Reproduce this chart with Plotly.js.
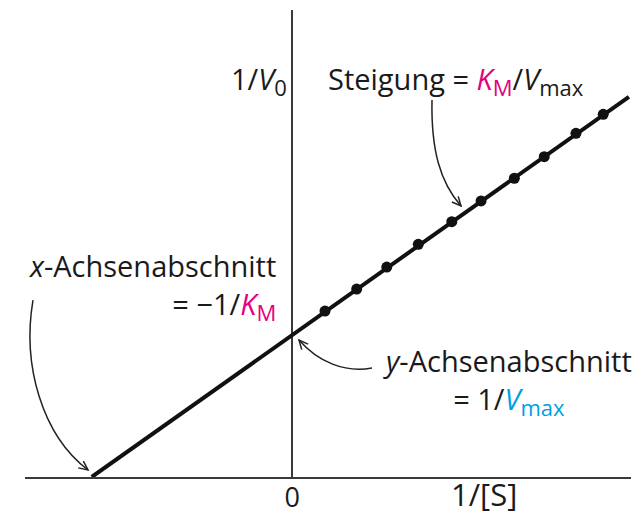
<!DOCTYPE html>
<html><head><meta charset="utf-8">
<script src="https://cdn.plot.ly/plotly-3.0.1.min.js"></script>
<style>html,body{margin:0;padding:0;background:#fff}</style>
</head><body>
<div id="chart" style="width:636px;height:519px"></div>
<script>
// Data (Lineweaver-Burk plot, arbitrary units: x in 1/KM, y in 1/Vmax)
const pointX = [0.163, 0.321, 0.471, 0.628, 0.795, 0.941, 1.107, 1.256, 1.414, 1.550];
const pointY = [1.155, 1.308, 1.461, 1.619, 1.777, 1.921, 2.079, 2.229, 2.392, 2.524];
const lineX = [-1, 1.678];
const lineY = [0, 2.646];
const xTickVals = [0];
const xTickText = ['0'];

const MAG = '#e5007e', CYAN = '#009fe3';
const FONT = 'Open Sans, sans-serif';
const FS = 29;

// pixel -> paper helpers (plot area: left 25, top 10, width 606, height 467)
const L = 25, T = 10, W = 606, H = 467;
const px = x => (x - L) / W;
const py = y => (T + H - y) / H;
const P = (x, y) => px(x).toFixed(5) + ',' + py(y).toFixed(5);

function arrow(d) {
  const [s, c1, c2, e] = d;
  const dx = e[0] - c2[0], dy = e[1] - c2[1];
  const len = Math.hypot(dx, dy), ux = dx / len, uy = dy / len;
  const a = 25 * Math.PI / 180, hl = 10;
  const rot = (ang) => [-(ux * Math.cos(ang) - uy * Math.sin(ang)) * hl, -(ux * Math.sin(ang) + uy * Math.cos(ang)) * hl];
  const r1 = rot(a), r2 = rot(-a);
  const curve = 'M' + P(s[0], s[1]) + ' C' + P(c1[0], c1[1]) + ' ' + P(c2[0], c2[1]) + ' ' + P(e[0], e[1]);
  const head = 'M' + P(e[0] + r1[0], e[1] + r1[1]) + ' L' + P(e[0], e[1]) + ' L' + P(e[0] + r2[0], e[1] + r2[1]);
  return [
    {type: 'path', xref: 'paper', yref: 'paper', path: curve, line: {color: '#222', width: 1.5}},
    {type: 'path', xref: 'paper', yref: 'paper', path: head, line: {color: '#222', width: 1.5}}
  ];
}

const shapes = [].concat(
  arrow([[432, 100], [431, 150], [440, 182], [461, 206]]),
  arrow([[33, 300], [22, 365], [42, 435], [88, 470]]),
  arrow([[372, 368], [345, 373], [318, 362], [299, 340]])
);

function ann(text, x, y, xanchor, align, size) {
  return {text: text, xref: 'paper', yref: 'paper', x: px(x), y: py(y), xanchor: xanchor, yanchor: 'middle',
          align: align || xanchor, showarrow: false, font: {family: FONT, size: size || FS, color: '#1a1a1a'}};
}
const sub = (t, c) => '<sub><span style="font-size:22px' + (c ? ';color:' + c : '') + '">' + t + '</span></sub>';
const Km = '<span style="color:' + MAG + '"><i>K</i></span>' + sub('M', MAG);
const Vmax = (c) => (c ? '<span style="color:' + c + '"><i>V</i></span>' : '<i>V</i>') + sub('max', c);
const annotations = [
  ann('1/<i>V</i>' + sub('0'), 289, 80, 'right'),
  ann('Steigung = ' + Km + '/' + Vmax(), 326, 80, 'left'),
  ann('<i>x</i>-Achsenabschnitt<br>= −1/' + Km, 278, 286, 'right'),
  ann('<i>y</i>-Achsenabschnitt<br>= 1/' + Vmax(CYAN), 507, 381, 'center', 'center'),
  ann('1/[S]', 449, 494, 'left', 'left', 31)
];

const traces = [
  {x: lineX, y: lineY, mode: 'lines', line: {color: '#111', width: 4}, hoverinfo: 'skip'},
  {x: pointX, y: pointY, mode: 'markers', marker: {color: '#111', size: 11}, cliponaxis: false}
];

const layout = {
  width: 636, height: 519,
  margin: {l: L, r: 636 - L - W, t: T, b: 519 - T - H},
  paper_bgcolor: '#fff', plot_bgcolor: '#fff',
  showlegend: false,
  xaxis: {range: [(L - 292.3) / 200.6, (L + W - 292.3) / 200.6], showgrid: false,
          showline: true, linecolor: '#3a3a3a', linewidth: 2,
          zeroline: true, zerolinecolor: '#3a3a3a', zerolinewidth: 2,
          tickvals: xTickVals, ticktext: xTickText, ticks: '', ticklabelstandoff: -4,
          tickfont: {family: FONT, size: 27, color: '#1a1a1a'}, fixedrange: true},
  yaxis: {range: [0, H / 143.7], showgrid: false, showline: false, zeroline: false,
          showticklabels: false, ticks: '', fixedrange: true},
  shapes: shapes,
  annotations: annotations
};
Plotly.newPlot('chart', traces, layout, {displayModeBar: false, staticPlot: true});
</script>
</body></html>
